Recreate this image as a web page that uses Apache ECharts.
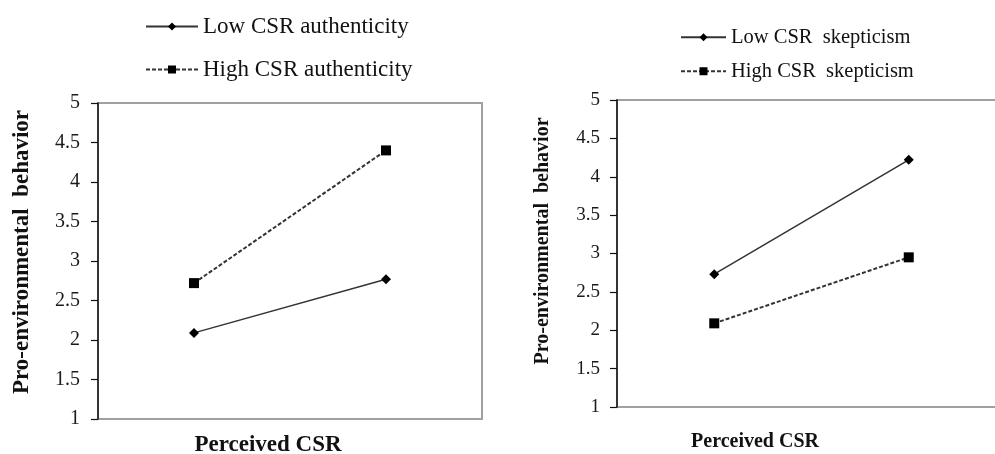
<!DOCTYPE html>
<html>
<head>
<meta charset="utf-8">
<script src="https://cdn.jsdelivr.net/npm/echarts@6/dist/echarts.min.js"></script>
<style>html,body{margin:0;padding:0;background:#fff;overflow:hidden;}#c{width:1020px;height:454px;}</style>
</head>
<body>
<div id="c"></div>
<script>
// ---- data ----
const categories = ['Low perceived CSR', 'High perceived CSR'];
const leftLowAuth = [2.09, 2.77];
const leftHighAuth = [2.72, 4.40];
const rightLowSkep = [2.73, 4.22];
const rightHighSkep = [2.09, 2.95];
const yMin = 1, yMax = 5, yInterval = 0.5;
const leftNames = ['Low CSR authenticity', 'High CSR authenticity'];
const rightNames = ['Low CSR  skepticism', 'High CSR  skepticism'];
const yAxisTitle = 'Pro-environmental  behavior';
const xAxisTitle = 'Perceived CSR';

const FONT = '"Liberation Serif", "Times New Roman", serif';
const chart = echarts.init(document.getElementById('c'), null, {renderer: 'canvas'});

function yAxis(gridIndex, fs, margin) {
  return {
    type: 'value', gridIndex, min: yMin, max: yMax, interval: yInterval,
    axisLine: {show: true, lineStyle: {color: '#111', width: 1.5}},
    axisTick: {show: true, length: 7, lineStyle: {color: '#111', width: 1.2}},
    axisLabel: {color: '#1a1a1a', fontFamily: FONT, fontSize: fs, margin},
    splitLine: {show: false}
  };
}
function xAxis(gridIndex) {
  return {
    type: 'category', gridIndex, data: categories, boundaryGap: true,
    axisLine: {show: false}, axisTick: {show: false}, axisLabel: {show: false}, splitLine: {show: false}
  };
}
function solid(name, data, idx) {
  return {
    name, type: 'line', data, xAxisIndex: idx, yAxisIndex: idx,
    symbol: 'diamond', symbolSize: 10,
    lineStyle: {color: '#333', width: 1.5, type: 'solid'},
    itemStyle: {color: '#000'}, emphasis: {disabled: true}
  };
}
function dashed(name, data, idx) {
  return {
    name, type: 'line', data, xAxisIndex: idx, yAxisIndex: idx,
    symbol: 'rect', symbolSize: 10,
    lineStyle: {color: '#333', width: 2, type: [4, 2]},
    itemStyle: {color: '#000'}, emphasis: {disabled: true}
  };
}
function leg(name, left, top, fs, w) {
  return {
    data: [name], left, top, padding: 0, itemWidth: w, itemHeight: 10, itemGap: 0,
    textStyle: {fontFamily: FONT, fontSize: fs, color: '#111', lineHeight: fs + 2}
  };
}

chart.setOption({
  animation: false,
  backgroundColor: '#fff',
  grid: [
    {left: 98, top: 103, width: 384, height: 316, show: true, borderColor: '#a0a0a0', borderWidth: 2, backgroundColor: 'transparent'},
    {left: 617, top: 100, width: 389, height: 307, show: true, borderColor: '#a0a0a0', borderWidth: 2, backgroundColor: 'transparent'}
  ],
  xAxis: [xAxis(0), xAxis(1)],
  yAxis: [yAxis(0, 20, 18), yAxis(1, 19, 17)],
  legend: [
    leg(leftNames[0], 145, 14, 23, 52),
    leg(leftNames[1], 145, 57, 23, 52),
    leg(rightNames[0], 680, 26, 20.5, 45),
    leg(rightNames[1], 680, 60, 20.5, 45)
  ],
  series: [
    solid(leftNames[0], leftLowAuth, 0),
    dashed(leftNames[1], leftHighAuth, 0),
    solid(rightNames[0], rightLowSkep, 1),
    dashed(rightNames[1], rightHighSkep, 1)
  ],
  graphic: [
    {type: 'text', x: 22, y: 252, rotation: Math.PI / 2,
     style: {text: yAxisTitle, fontFamily: FONT, fontWeight: 'bold', fontSize: 23, fill: '#111', textAlign: 'center', textVerticalAlign: 'middle'}},
    {type: 'text', x: 543, y: 241, rotation: Math.PI / 2,
     style: {text: yAxisTitle, fontFamily: FONT, fontWeight: 'bold', fontSize: 20, fill: '#111', textAlign: 'center', textVerticalAlign: 'middle'}},
    {type: 'text', x: 268, y: 445,
     style: {text: xAxisTitle, fontFamily: FONT, fontWeight: 'bold', fontSize: 23, fill: '#111', textAlign: 'center', textVerticalAlign: 'middle'}},
    {type: 'text', x: 755, y: 442,
     style: {text: xAxisTitle, fontFamily: FONT, fontWeight: 'bold', fontSize: 20, fill: '#111', textAlign: 'center', textVerticalAlign: 'middle'}}
  ]
});
</script>
</body>
</html>
